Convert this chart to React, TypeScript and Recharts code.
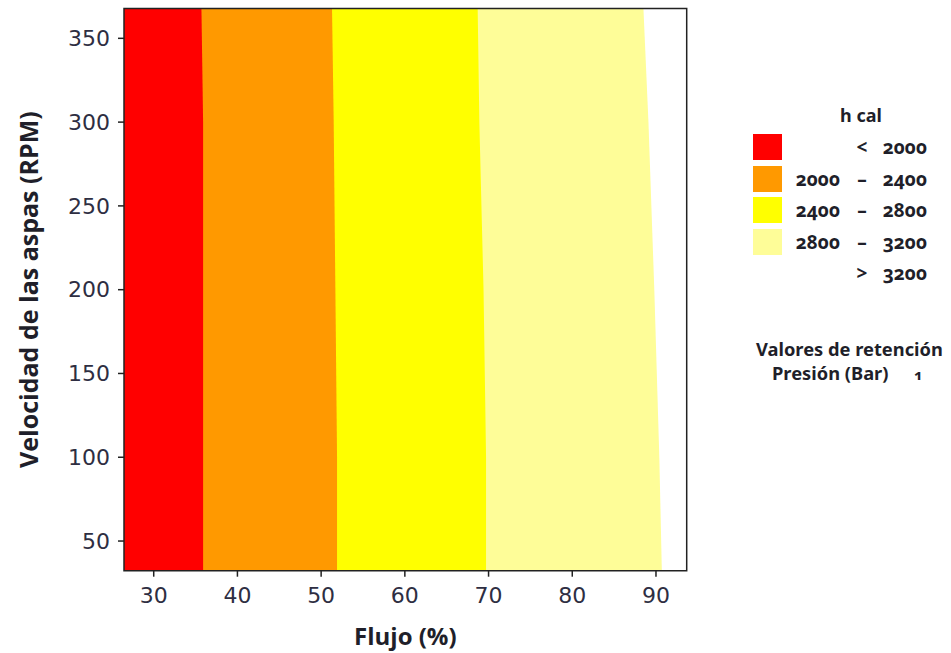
import { ComposedChart, Area, XAxis, YAxis, ReferenceArea } from 'recharts';

// Velocidad de las aspas (RPM), rows from top to bottom of the plot
const rpm = [367.8, 300, 200, 100, 32.3];
// Flujo (%) where each contour band ends, read per row
const limRed = [35.7, 35.9, 35.9, 35.9, 35.9];
const limOrange = [51.3, 51.5, 51.7, 51.9, 51.9];
const limYellow = [68.7, 68.9, 69.4, 69.7, 69.7];
const limPale = [88.5, 89.1, 89.8, 90.4, 90.7];

const xTicks = [30, 40, 50, 60, 70, 80, 90];
const yTicks = [50, 100, 150, 200, 250, 300, 350];

const legendTitle = 'h cal';
const legendRows = [
  { color: '#ff0000', lo: '', sep: '<', hi: '2000' },
  { color: '#ff9900', lo: '2000', sep: '–', hi: '2400' },
  { color: '#ffff00', lo: '2400', sep: '–', hi: '2800' },
  { color: '#fefd98', lo: '2800', sep: '–', hi: '3200' },
  { color: '', lo: '', sep: '>', hi: '3200' },
];

const data = rpm.map((r, i) => ({
  rpm: r,
  red: limRed[i],
  orange: limOrange[i],
  yellow: limYellow[i],
  pale: limPale[i],
}));

const X_DOMAIN: [number, number] = [26.45, 93.67];
const Y_DOMAIN: [number, number] = [32.3, 367.8];

const tickStyle = { fontSize: 22, fill: '#2e2e42', fontFamily: 'DejaVu Sans' };
const titleFont = "'Open Sans', 'Noto Sans', sans-serif";

const YTitle = ({ viewBox }: any) => {
  const cy = viewBox.y + viewBox.height / 2;
  return (
    <text
      x={28}
      y={cy}
      transform={`rotate(-90, 28, ${cy})`}
      textAnchor="middle"
      dominantBaseline="central"
      fontSize={25}
      fontWeight={700}
      fontFamily={titleFont}
      fill="#1f1f2a"
    >
      Velocidad de las aspas (RPM)
    </text>
  );
};

const XTitle = ({ viewBox }: any) => (
  <text
    x={viewBox.x + viewBox.width / 2}
    y={635}
    textAnchor="middle"
    dominantBaseline="central"
    fontSize={24}
    fontWeight={700}
    fontFamily={titleFont}
    fill="#1f1f2a"
  >
    Flujo (%)
  </text>
);

const legendText = {
  position: 'absolute' as const,
  fontFamily: "'Noto Sans', sans-serif",
  fontWeight: 700,
  fontSize: 19,
  color: '#1f1f2a',
  fontVariantNumeric: 'oldstyle-nums' as const,
  lineHeight: '22px',
  whiteSpace: 'nowrap' as const,
};

export default function App() {
  return (
    <div style={{ position: 'absolute', left: 0, top: 0, width: 951, height: 653, background: '#fff' }}>
      <ComposedChart
        width={951}
        height={653}
        data={data}
        layout="vertical"
        margin={{ top: 8.5, right: 264.3, bottom: 0, left: 0 }}
      >
        <XAxis
          type="number"
          dataKey="x"
          domain={X_DOMAIN}
          allowDataOverflow
          ticks={xTicks}
          height={82.3}
          axisLine={false}
          tickSize={6}
          tickMargin={11}
          tickLine={{ stroke: '#222', strokeWidth: 1.5 }}
          tick={tickStyle}
          label={<XTitle />}
        />
        <YAxis
          type="number"
          dataKey="rpm"
          domain={Y_DOMAIN}
          allowDataOverflow
          reversed
          ticks={yTicks}
          width={124}
          axisLine={false}
          tickSize={6}
          tickMargin={8}
          tickLine={{ stroke: '#222', strokeWidth: 1.5 }}
          tick={tickStyle}
          label={<YTitle />}
        />
        <Area dataKey="pale" type="linear" fill="#fefd98" fillOpacity={1} stroke="none" isAnimationActive={false} />
        <Area dataKey="yellow" type="linear" fill="#ffff00" fillOpacity={1} stroke="none" isAnimationActive={false} />
        <Area dataKey="orange" type="linear" fill="#ff9900" fillOpacity={1} stroke="none" isAnimationActive={false} />
        <Area dataKey="red" type="linear" fill="#ff0000" fillOpacity={1} stroke="none" isAnimationActive={false} />
        <ReferenceArea
          x1={X_DOMAIN[0]}
          x2={X_DOMAIN[1]}
          y1={Y_DOMAIN[0]}
          y2={Y_DOMAIN[1]}
          fill="none"
          fillOpacity={0}
          stroke="#222"
          strokeWidth={1.5}
          ifOverflow="visible"
        />
      </ComposedChart>

      <div style={{ ...legendText, fontSize: 18, left: 840, top: 104 }}>{legendTitle}</div>
      {legendRows.map((row, i) => {
        const cy = 147 + i * 31.5;
        return (
          <div key={i}>
            {row.color && (
              <div
                style={{
                  position: 'absolute',
                  left: 753,
                  top: cy - 13,
                  width: 29,
                  height: 26,
                  background: row.color,
                }}
              />
            )}
            {row.lo && (
              <div style={{ ...legendText, right: 951 - 840, top: cy - 11 }}>{row.lo}</div>
            )}
            <div style={{ ...legendText, left: 855, width: 14, textAlign: 'center', top: cy - 11 }}>{row.sep}</div>
            <div style={{ ...legendText, right: 951 - 927, top: cy - 11 }}>{row.hi}</div>
          </div>
        );
      })}
      <div style={{ ...legendText, fontSize: 18.3, left: 756, top: 338 }}>Valores de retención</div>
      <div style={{ ...legendText, fontSize: 18.3, left: 772, top: 362 }}>Presión (Bar)</div>
      <div style={{ ...legendText, fontSize: 15, left: 914, top: 363 }}>1</div>
    </div>
  );
}
